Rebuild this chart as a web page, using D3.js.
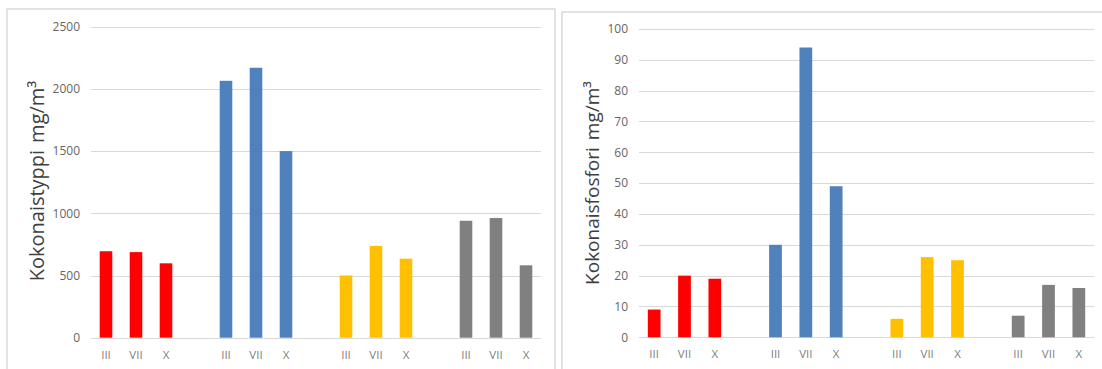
<!DOCTYPE html>
<html>
<head>
<meta charset="utf-8">
<script src="https://cdn.jsdelivr.net/npm/d3@7"></script>
<style>
  html, body { margin: 0; padding: 0; background: #fff; }
  svg { display: block; }
  text { font-family: "Open Sans", "Liberation Sans", sans-serif; }
</style>
</head>
<body>
<svg id="chart" width="1102" height="369"></svg>
<script>
// Sampling months shown under each group of bars
const months = ["III", "VII", "X"];
// One colour per sampling site (group of three bars)
const groupColors = ["#FF0000", "#4F81BD", "#FFC000", "#808080"];
// Total nitrogen, mg/m³, site by site, months III, VII, X
const typpiValues = [695, 688, 598, 2065, 2170, 1500, 500, 738, 635, 940, 962, 582];
// Total phosphorus, mg/m³, same order
const fosforiValues = [9, 20, 19, 30, 94, 49, 6, 26, 25, 7, 17, 16];
// Y-axis ticks
const typpiTicks = [0, 500, 1000, 1500, 2000, 2500];
const fosforiTicks = [0, 10, 20, 30, 40, 50, 60, 70, 80, 90, 100];

const svg = d3.select("#chart");

// Category slots: three months per site, with an empty slot between sites
const slots = [];
groupColors.forEach((c, g) => {
  months.forEach(m => slots.push({ key: g + "-" + m, label: m }));
  if (g < groupColors.length - 1) slots.push({ key: "gap-" + g, label: "" });
});
const labelOf = new Map(slots.map(s => [s.key, s.label]));

function drawPanel(opts) {
  const { frame, xRange, yRange, values, ticks, title, titleX, titleY, titleSize } = opts;

  // panel frame
  svg.append("rect")
    .attr("x", frame[0]).attr("y", frame[1])
    .attr("width", frame[2]).attr("height", frame[3])
    .attr("fill", "#fff")
    .attr("stroke", "#d9d9d9")
    .attr("stroke-width", 1.5);

  const x = d3.scaleBand()
    .domain(slots.map(s => s.key))
    .range(xRange)
    .paddingInner(0.58)
    .paddingOuter(0.29);

  const y = d3.scaleLinear()
    .domain([ticks[0], ticks[ticks.length - 1]])
    .range(yRange);

  const g = svg.append("g");

  // horizontal gridlines
  g.append("g")
    .selectAll("line")
    .data(ticks)
    .join("line")
    .attr("x1", xRange[0]).attr("x2", xRange[1])
    .attr("y1", d => Math.round(y(d)) + 0.5)
    .attr("y2", d => Math.round(y(d)) + 0.5)
    .attr("stroke", "#d9d9d9")
    .attr("stroke-width", 1);

  // y axis labels
  const yAxis = d3.axisLeft(y).tickValues(ticks).tickSize(0).tickPadding(0)
    .tickFormat(d3.format("d"));
  const ya = g.append("g")
    .attr("transform", `translate(${xRange[0] - 11},0)`)
    .call(yAxis);
  ya.select(".domain").remove();
  ya.selectAll("text")
    .attr("fill", "#666666")
    .style("font-size", "12px")
    .style("font-family", "\"Open Sans\", sans-serif");

  // bars
  const bars = [];
  values.forEach((v, i) => {
    const gi = Math.floor(i / months.length);
    const m = months[i % months.length];
    bars.push({ key: gi + "-" + m, value: v, color: groupColors[gi] });
  });
  g.append("g")
    .selectAll("rect")
    .data(bars)
    .join("rect")
    .attr("x", d => x(d.key))
    .attr("width", x.bandwidth())
    .attr("y", d => y(d.value))
    .attr("height", d => y(0) - y(d.value))
    .attr("fill", d => d.color);

  // category labels
  const xAxis = d3.axisBottom(x).tickSize(0).tickPadding(0)
    .tickFormat(k => labelOf.get(k));
  const xa = g.append("g")
    .attr("transform", `translate(0,${yRange[0] + 13})`)
    .call(xAxis);
  xa.select(".domain").remove();
  xa.selectAll("text")
    .attr("fill", "#808080")
    .style("font-size", "11.5px")
    .style("font-family", "\"Open Sans\", sans-serif");

  // y axis title
  const t = svg.append("text")
    .attr("transform", `translate(${titleX},${titleY}) rotate(-90)`)
    .attr("text-anchor", "middle")
    .attr("dominant-baseline", "middle")
    .attr("fill", "#404040")
    .style("font-size", titleSize + "px");
  t.append("tspan").text(title[0]);
  t.append("tspan").attr("dx", 7).text(title[1]);
}

drawPanel({
  frame: [7, 9, 548, 380],
  xRange: [91, 541],
  yRange: [337.7, 26.7],
  values: typpiValues,
  ticks: typpiTicks,
  title: ["Kokonaistyppi", "mg/m³"],
  titleX: 39,
  titleY: 181,
  titleSize: 20
});

drawPanel({
  frame: [562, 12, 560, 380],
  xRange: [639, 1094],
  yRange: [337.3, 29],
  values: fosforiValues,
  ticks: fosforiTicks,
  title: ["Kokonaisfosfori", "mg/m³"],
  titleX: 594,
  titleY: 183,
  titleSize: 19
});
</script>
</body>
</html>
